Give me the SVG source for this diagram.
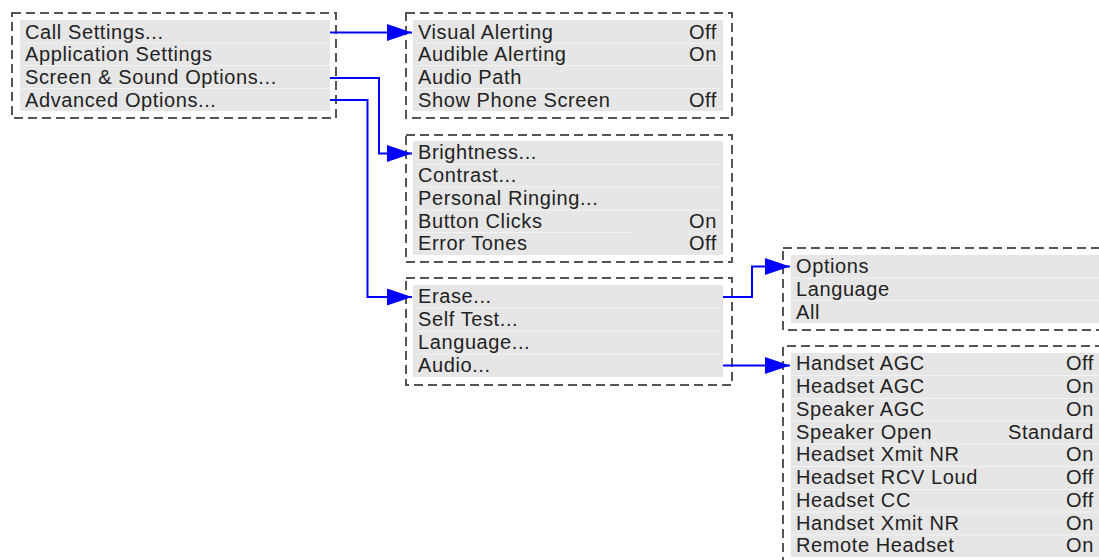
<svg xmlns="http://www.w3.org/2000/svg" width="1099" height="560" viewBox="0 0 1099 560">
<style>
.frame{fill:none;stroke:#555;stroke-width:2;stroke-dasharray:9 5}
.bg{fill:#e6e6e6}
.sep{stroke:#f2f2f2;stroke-width:1}
text{font-family:"Liberation Sans",Arial,sans-serif;font-size:20px;fill:#222;letter-spacing:0.6px}
.r{text-anchor:end}
.conn{fill:none;stroke:#0000ff;stroke-width:2}
</style>
<defs>
<marker id="ah" markerUnits="userSpaceOnUse" viewBox="0 0 25 17" markerWidth="25" markerHeight="17" refX="25" refY="8.5" orient="auto">
<path d="M0,0 L25,8.5 L0,17 Z" fill="#0000ff"/>
</marker>
</defs>
<rect width="1099" height="560" fill="#fff"/>

<g id="main-menu">
<rect class="bg" x="20" y="20" width="310" height="91"/>
<line class="sep" x1="20" y1="43" x2="330" y2="43"/>
<line class="sep" x1="20" y1="65.5" x2="330" y2="65.5"/>
<line class="sep" x1="20" y1="88.5" x2="330" y2="88.5"/>
<rect class="frame" x="12" y="13" width="324" height="105"/>
<text x="25" y="38.5">Call Settings...</text>
<text x="25" y="61">Application Settings</text>
<text x="25" y="84">Screen &amp; Sound Options...</text>
<text x="25" y="107">Advanced Options...</text>
</g>

<g id="call-settings">
<rect class="bg" x="413" y="20" width="310" height="91"/>
<line class="sep" x1="413" y1="43" x2="723" y2="43"/>
<line class="sep" x1="413" y1="65.5" x2="723" y2="65.5"/>
<line class="sep" x1="413" y1="88.5" x2="723" y2="88.5"/>
<rect class="frame" x="406" y="13" width="326" height="105"/>
<text x="418" y="38.5">Visual Alerting</text><text class="r" x="717" y="38.5">Off</text>
<text x="418" y="61">Audible Alerting</text><text class="r" x="717" y="61">On</text>
<text x="418" y="84">Audio Path</text>
<text x="418" y="107">Show Phone Screen</text><text class="r" x="717" y="107">Off</text>
</g>

<g id="screen-sound">
<rect class="bg" x="413" y="141" width="310" height="114"/>
<line class="sep" x1="413" y1="164.5" x2="723" y2="164.5"/>
<line class="sep" x1="413" y1="187" x2="723" y2="187"/>
<line class="sep" x1="413" y1="210" x2="723" y2="210"/>
<line class="sep" x1="413" y1="232.5" x2="632" y2="232.5"/>
<rect class="frame" x="406" y="135" width="326" height="127"/>
<text x="418" y="159">Brightness...</text>
<text x="418" y="182">Contrast...</text>
<text x="418" y="205">Personal Ringing...</text>
<text x="418" y="227.5">Button Clicks</text><text class="r" x="717" y="227.5">On</text>
<text x="418" y="250">Error Tones</text><text class="r" x="717" y="250">Off</text>
</g>

<g id="advanced">
<rect class="bg" x="413" y="285" width="310" height="92"/>
<line class="sep" x1="413" y1="308" x2="723" y2="308"/>
<line class="sep" x1="413" y1="331" x2="723" y2="331"/>
<line class="sep" x1="413" y1="354" x2="723" y2="354"/>
<rect class="frame" x="406" y="278" width="326" height="107"/>
<text x="418" y="303">Erase...</text>
<text x="418" y="326">Self Test...</text>
<text x="418" y="349">Language...</text>
<text x="418" y="372">Audio...</text>
</g>

<g id="erase">
<rect class="bg" x="791" y="255" width="308" height="68"/>
<line class="sep" x1="791" y1="278" x2="1099" y2="278"/>
<line class="sep" x1="791" y1="300.5" x2="1099" y2="300.5"/>
<rect class="frame" x="783" y="248" width="330" height="82"/>
<text x="796" y="273">Options</text>
<text x="796" y="296">Language</text>
<text x="796" y="319">All</text>
</g>

<g id="audio">
<rect class="bg" x="791" y="353" width="308" height="204"/>
<line class="sep" x1="791" y1="375.5" x2="1099" y2="375.5"/>
<line class="sep" x1="791" y1="398.5" x2="1099" y2="398.5"/>
<line class="sep" x1="791" y1="421" x2="1099" y2="421"/>
<line class="sep" x1="791" y1="444" x2="1099" y2="444"/>
<line class="sep" x1="791" y1="466.5" x2="1099" y2="466.5"/>
<line class="sep" x1="791" y1="489.5" x2="1099" y2="489.5"/>
<line class="sep" x1="791" y1="512" x2="1099" y2="512"/>
<line class="sep" x1="791" y1="535" x2="1099" y2="535"/>
<path class="frame" d="M783,580 V346 H1113"/>
<text x="796" y="370">Handset AGC</text><text class="r" x="1094" y="370">Off</text>
<text x="796" y="393">Headset AGC</text><text class="r" x="1094" y="393">On</text>
<text x="796" y="415.5">Speaker AGC</text><text class="r" x="1094" y="415.5">On</text>
<text x="796" y="438.5">Speaker Open</text><text class="r" x="1094" y="438.5">Standard</text>
<text x="796" y="461">Headset Xmit NR</text><text class="r" x="1094" y="461">On</text>
<text x="796" y="484">Headset RCV Loud</text><text class="r" x="1094" y="484">Off</text>
<text x="796" y="506.5">Headset CC</text><text class="r" x="1094" y="506.5">Off</text>
<text x="796" y="529.5">Handset Xmit NR</text><text class="r" x="1094" y="529.5">On</text>
<text x="796" y="552">Remote Headset</text><text class="r" x="1094" y="552">On</text>
</g>

<g id="connectors">
<path class="conn" d="M330,32.5 H412" marker-end="url(#ah)"/>
<path class="conn" d="M330,78 H379 V153.5 H412" marker-end="url(#ah)"/>
<path class="conn" d="M330,100 H367.5 V297 H412" marker-end="url(#ah)"/>
<path class="conn" d="M723,297 H752 V266.5 H790" marker-end="url(#ah)"/>
<path class="conn" d="M723,365.5 H790" marker-end="url(#ah)"/>
</g>
</svg>
